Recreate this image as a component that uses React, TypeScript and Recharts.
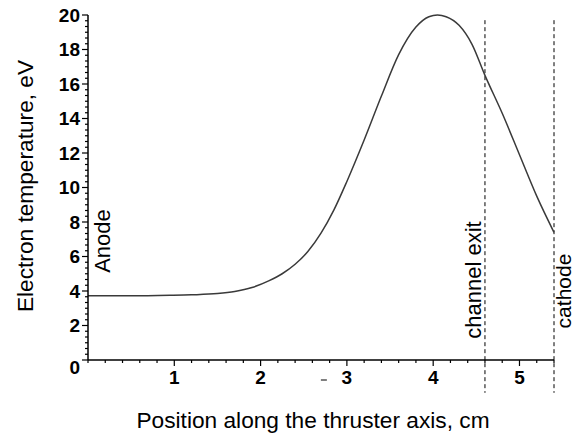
import React from 'react';
import { LineChart, Line, XAxis, YAxis, ReferenceLine, Label } from 'recharts';

const positions = [0, 0.5, 0.95, 1.2, 1.5, 1.7, 1.9, 2.1, 2.25, 2.4, 2.55, 2.7, 2.85, 3.0, 3.2, 3.4, 3.6, 3.8, 3.95, 4.05, 4.15, 4.3, 4.45, 4.6, 4.8, 5.0, 5.2, 5.4];
const temperatures = [3.72, 3.72, 3.75, 3.78, 3.85, 3.97, 4.2, 4.6, 5.0, 5.55, 6.3, 7.35, 8.7, 10.35, 12.75, 15.3, 17.7, 19.3, 19.9, 20.0, 19.9, 19.4, 18.3, 16.5, 14.3, 11.9, 9.5, 7.4];
const xMajorTicks = [1, 2, 3, 4, 5];
const yMajorTicks = [0, 2, 4, 6, 8, 10, 12, 14, 16, 18, 20];
const channelExit = 4.6;
const cathode = 5.4;

const data = positions.map((x, i) => ({ x, t: temperatures[i] }));
const xTicks: number[] = [];
for (let i = 0; i <= 27; i++) xTicks.push(Math.round(i * 2) / 10);
const yTicks: number[] = [];
for (let i = 0; i <= 60; i++) yTicks.push(i / 3);

const FONT = '"Liberation Sans", Arial, sans-serif';

const XTick = (props: any) => {
  const { x, y, payload } = props;
  const v = payload.value;
  const major = xMajorTicks.some((m) => Math.abs(m - v) < 1e-6);
  return (
    <g>
      <line x1={x} x2={x} y1={y} y2={y + (major ? 6 : 3)} stroke="#000" strokeWidth={1.2} />
      {major && (
        <text x={x} y={y + 24} textAnchor="middle" fontFamily={FONT} fontWeight="bold" fontSize={19} fill="#000">
          {v}
        </text>
      )}
      {major && v === 3 && (
        <line x1={x - 26} x2={x - 20} y1={y + 20} y2={y + 20} stroke="#000" strokeWidth={1} />
      )}
    </g>
  );
};

const YTick = (props: any) => {
  const { x, y, payload } = props;
  const v = payload.value;
  const r = Math.round(v * 3);
  const major = r % 6 === 0;
  const label = r / 3;
  return (
    <g>
      <line x1={x - (major ? 6 : 3)} x2={x} y1={y} y2={y} stroke="#000" strokeWidth={1.2} />
      {major && yMajorTicks.includes(label) && (
        <text x={x - 8} y={y + (label === 0 ? 7 : 0)} dy="0.36em" textAnchor="end" fontFamily={FONT} fontWeight="bold" fontSize={19} fill="#000">
          {label}
        </text>
      )}
    </g>
  );
};

const Annotations = () => (
  <g fontFamily={FONT} fill="#000">
    <text x={313} y={428} textAnchor="middle" fontSize={22.7}>Position along the thruster axis, cm</text>
    <text x={33} y={186} transform="rotate(-90, 33, 186)" textAnchor="middle" fontSize={22.7}>Electron temperature, eV</text>
    <text x={110} y={241} transform="rotate(-90, 110, 241)" textAnchor="middle" fontSize={22}>Anode</text>
    <text x={481} y={280} transform="rotate(-90, 481, 280)" textAnchor="middle" fontSize={22}>channel exit</text>
    <text x={571} y={291} transform="rotate(-90, 571, 291)" textAnchor="middle" fontSize={21}>cathode</text>
  </g>
);

export default function App() {
  return (
    <div style={{ position: 'absolute', left: 0, top: 0, background: '#fff' }}>
      <LineChart width={577} height={440} data={data} margin={{ top: 15, right: 23, left: 0, bottom: 0 }}>
        <XAxis
          type="number"
          dataKey="x"
          domain={[0, 5.4]}
          ticks={xTicks}
          interval={0}
          tickSize={0}
          tickMargin={0}
          tickLine={false}
          tick={<XTick />}
          height={80}
          axisLine={{ stroke: '#000', strokeWidth: 1.5 }}
        >
          <Label content={() => <Annotations />} />
        </XAxis>
        <YAxis
          type="number"
          domain={[0, 20]}
          ticks={yTicks}
          interval={0}
          tickSize={0}
          tickMargin={0}
          tickLine={false}
          tick={<YTick />}
          width={88}
          axisLine={{ stroke: '#000', strokeWidth: 1.5 }}
        />
        <ReferenceLine
          segment={[{ x: channelExit, y: 19.7 }, { x: channelExit, y: -1.9 }]}
          stroke="#000"
          strokeDasharray="4 3"
          ifOverflow="visible"
        />
        <ReferenceLine
          segment={[{ x: cathode, y: 19.7 }, { x: cathode, y: -1.9 }]}
          stroke="#000"
          strokeDasharray="4 3"
          ifOverflow="visible"
        />
        <Line type="monotone" dataKey="t" stroke="#3a3a3a" strokeWidth={1.5} dot={false} isAnimationActive={false} />
      </LineChart>
    </div>
  );
}
